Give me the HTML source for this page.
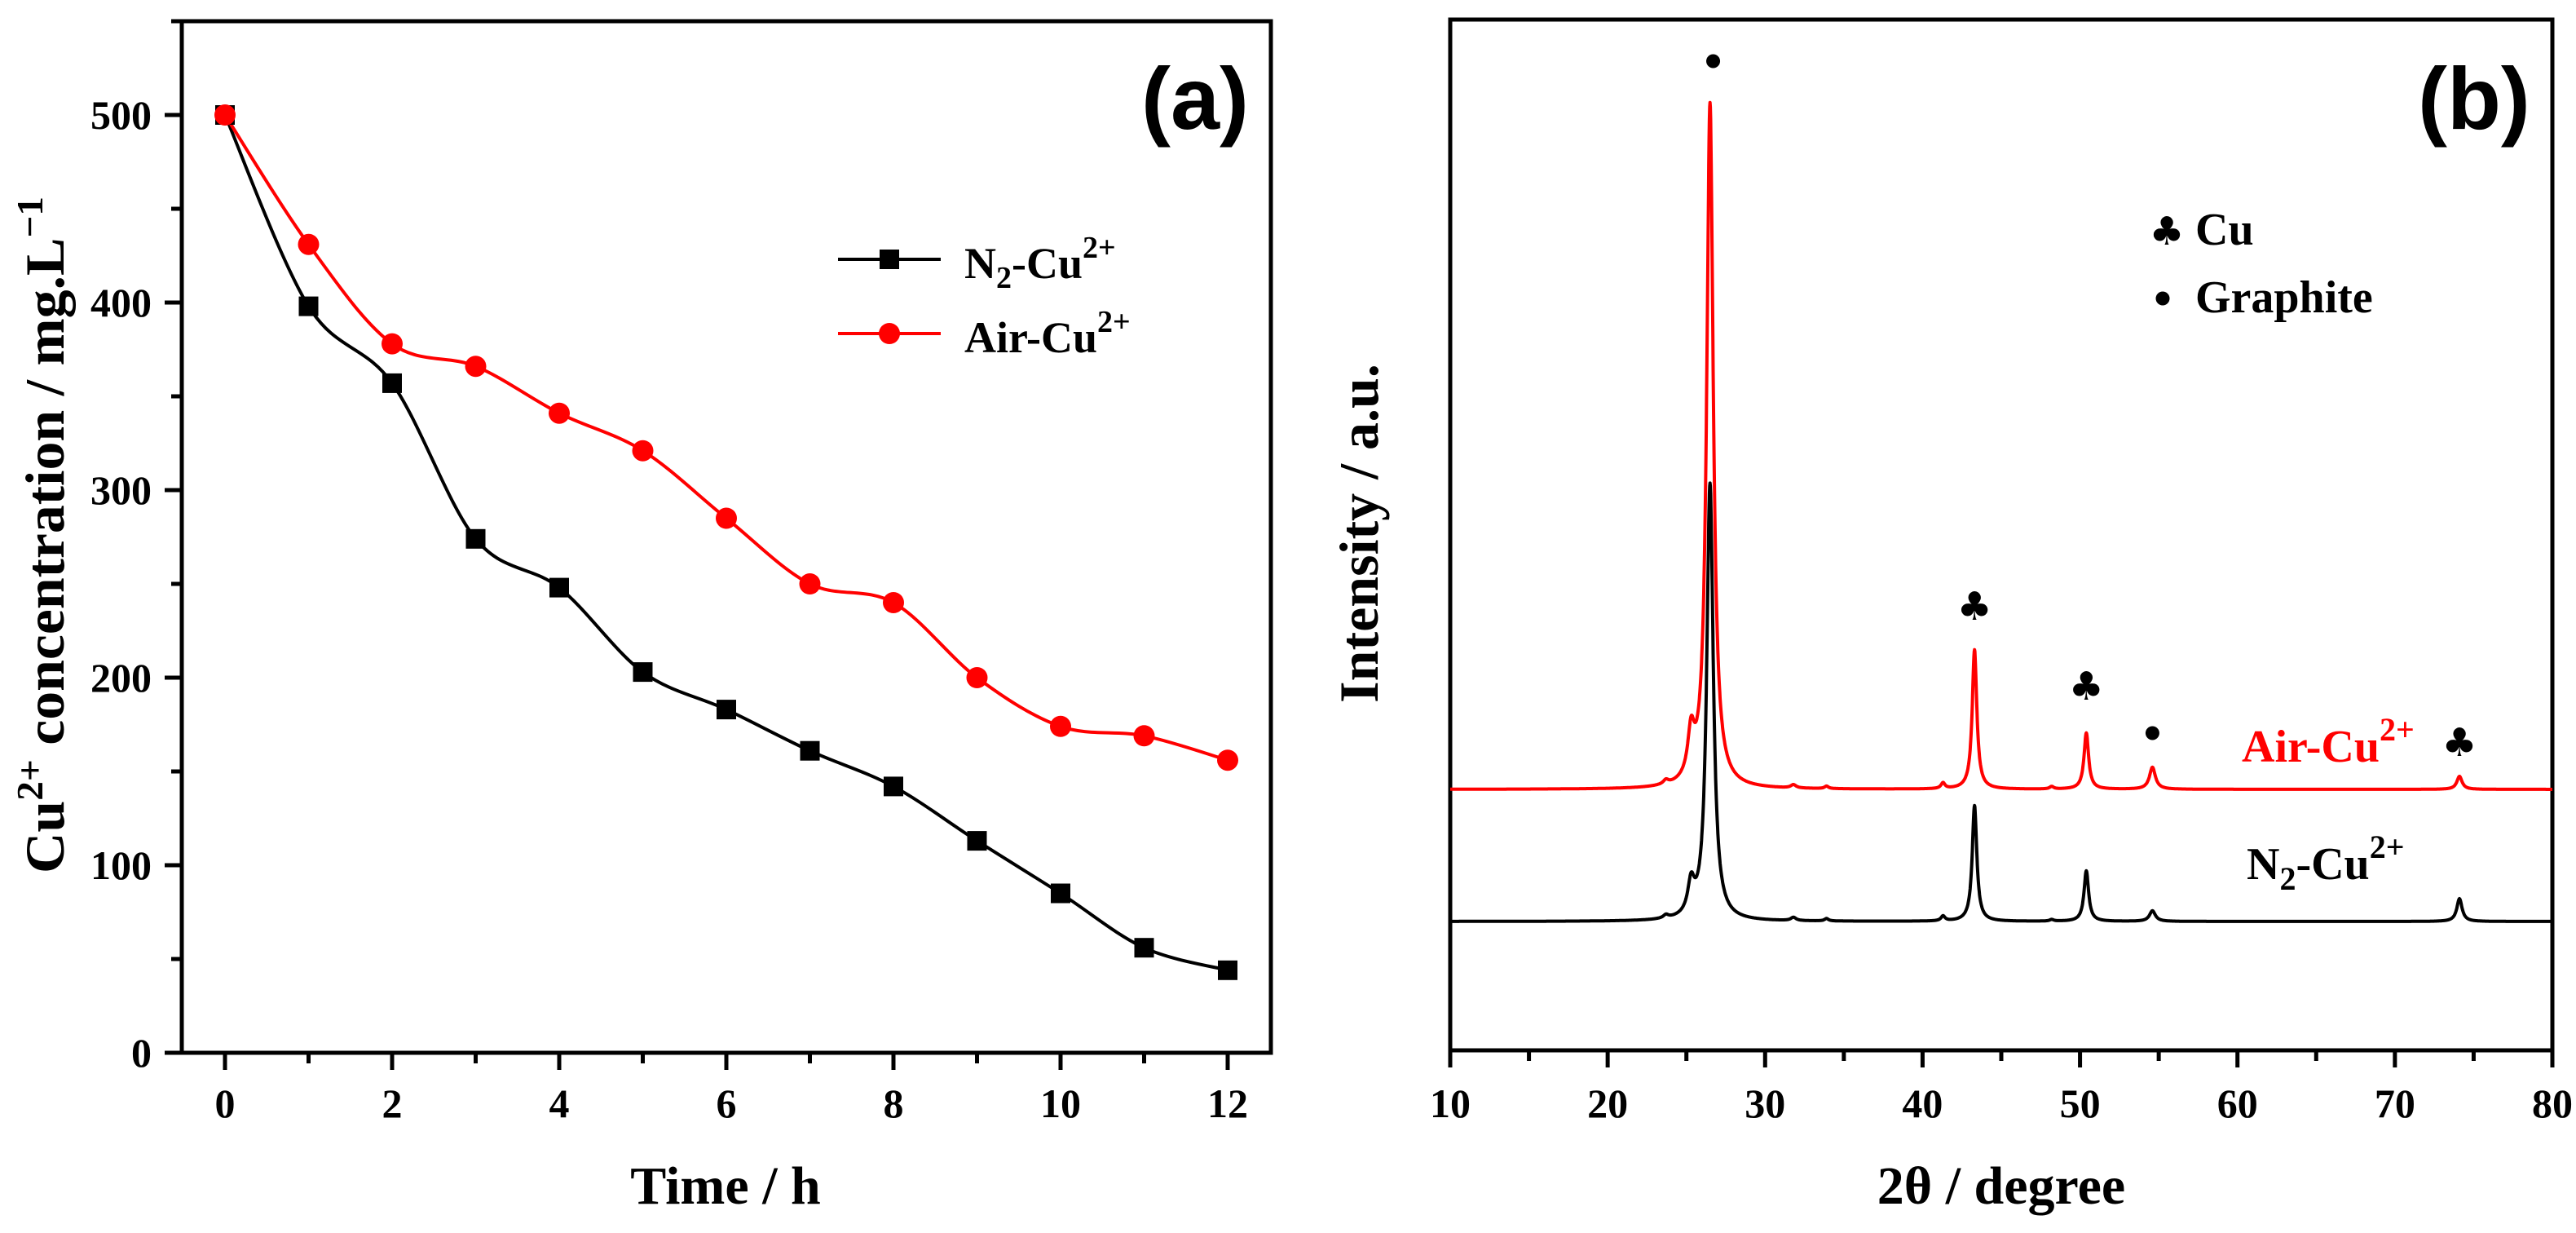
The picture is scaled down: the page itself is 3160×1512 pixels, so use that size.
<!DOCTYPE html>
<html><head><meta charset="utf-8">
<style>
html,body{margin:0;padding:0;background:#fff;}
svg{display:block;}
text{font-family:"Liberation Serif",serif;font-weight:bold;}
</style></head>
<body>
<svg id="fig" width="3160" height="1512" viewBox="0 0 3160 1512" xmlns="http://www.w3.org/2000/svg">
<g id="pa"></g>
<g id="pb"></g>
</svg>
<script>
// ---- Panel (a) data ----
const timeHours = [0,1,2,3,4,5,6,7,8,9,10,11,12];
const n2Conc = [500,398,357,274,248,203,183,161,142,113,85,56,44];
const airConc = [500,431,378,366,341,321,285,250,240,200,174,169,156];
const aXTicks = [0,2,4,6,8,10,12];
const aYTicks = [0,100,200,300,400,500];

// ---- Panel (b) data: peaks [2theta, height (a.u.), fwhm] ----
const xrdXTicks = [10,20,30,40,50,60,70,80];
const airPeakPos = [23.7,25.3,26.5,31.8,33.9,41.3,43.3,48.2,50.4,54.6,74.1];
const airPeakHt  = [5,55,840,4,3,7,171,3,69,27,16];
const n2PeakPos  = [23.7,25.3,26.5,31.8,33.9,41.3,43.3,48.2,50.4,54.6,74.1];
const n2PeakHt   = [4,38,536,4,3,6,142,2,62,13,28];
const peakWidth  = [0.4,0.5,0.5,0.4,0.3,0.3,0.35,0.3,0.35,0.45,0.4];
const airBaseline = 0, n2Baseline = 0;

const NS="http://www.w3.org/2000/svg";
function mk(parent,tag,attrs){const e=document.createElementNS(NS,tag);for(const k in attrs)e.setAttribute(k,attrs[k]);parent.appendChild(e);return e;}

// ===== Panel a =====
const pa=document.getElementById('pa');
const aL=223,aR=1559,aT=26,aB=1291;
const ax=v=>276+(v-0)*(1506-276)/12;
const ay=v=>aB-(v)*(aB-141)/500;

let f=mk(pa,'rect',{x:aL,y:aT,width:aR-aL,height:aB-aT,fill:'none',stroke:'#000','stroke-width':5});

for(let v=0;v<=12;v++){
  const major=v%2===0;
  let t=mk(pa,'line',{x1:ax(v),x2:ax(v),y1:aB,y2:aB+(major?21:13),stroke:'#000','stroke-width':5});
  
}
aXTicks.forEach(v=>{let t=mk(pa,'text',{x:ax(v),y:1370,'font-size':50,'text-anchor':'middle'});t.textContent=v;
  });
for(let v=0;v<=550;v+=50){
  const major=v%100===0;
  let t=mk(pa,'line',{x1:aL-(major?21:13),x2:aL,y1:ay(v),y2:ay(v),stroke:'#000','stroke-width':5});
  
}
aYTicks.forEach(v=>{let t=mk(pa,'text',{x:186,y:ay(v)+17,'font-size':50,'text-anchor':'end'});t.textContent=v;
  });

let xt=mk(pa,'text',{x:890,y:1476,'font-size':66,'text-anchor':'middle'});xt.textContent='Time / h';

let yt=mk(pa,'text',{x:0,y:0,'font-size':68,'text-anchor':'middle',transform:'translate(78,656) rotate(-90)',textLength:830,lengthAdjust:'spacingAndGlyphs'});
yt.innerHTML='Cu<tspan dy="-26" font-size="46">2+</tspan><tspan dy="26"> concentration / mg.L</tspan><tspan dy="-26" font-size="46">−1</tspan>';


function smoothPath(xs,ys){
  const p=xs.map((x,i)=>[x,ys[i]]);let d=`M${p[0][0]},${p[0][1]}`;
  for(let i=0;i<p.length-1;i++){
    const p0=p[i-1]||p[i],p1=p[i],p2=p[i+1],p3=p[i+2]||p2;
    const c1=[p1[0]+(p2[0]-p0[0])/6,p1[1]+(p2[1]-p0[1])/6];
    const c2=[p2[0]-(p3[0]-p1[0])/6,p2[1]-(p3[1]-p1[1])/6];
    d+=` C${c1[0]},${c1[1]} ${c2[0]},${c2[1]} ${p2[0]},${p2[1]}`;
  }return d;
}
const xsA=timeHours.map(ax);
let ln=mk(pa,'path',{d:smoothPath(xsA,n2Conc.map(ay)),fill:'none',stroke:'#000','stroke-width':4});

let la=mk(pa,'path',{d:smoothPath(xsA,airConc.map(ay)),fill:'none',stroke:'#f00','stroke-width':4});

n2Conc.forEach((v,i)=>{let r=mk(pa,'rect',{x:ax(timeHours[i])-12,y:ay(v)-12,width:24,height:24,fill:'#000'});
  });
airConc.forEach((v,i)=>{let c=mk(pa,'circle',{cx:ax(timeHours[i]),cy:ay(v),r:13,fill:'#f00'});
  });

// legend a
let lg=mk(pa,'g',{});
mk(lg,'line',{x1:1028,x2:1154,y1:318,y2:318,stroke:'#000','stroke-width':4});
mk(lg,'rect',{x:1079,y:306,width:24,height:24,fill:'#000'});
let l1=mk(lg,'text',{x:1183,y:341,'font-size':54});l1.innerHTML='N<tspan dy="12" font-size="38">2</tspan><tspan dy="-12">-Cu</tspan><tspan dy="-25" font-size="38">2+</tspan>';

mk(lg,'line',{x1:1028,x2:1154,y1:409,y2:409,stroke:'#f00','stroke-width':4});
mk(lg,'circle',{cx:1091,cy:409,r:13,fill:'#f00'});
let l2=mk(lg,'text',{x:1183,y:432,'font-size':54});l2.innerHTML='Air-Cu<tspan dy="-25" font-size="38">2+</tspan>';

let pla=mk(pa,'text',{x:1400,y:158,'font-size':108,style:'font-family:"Liberation Sans",sans-serif'});pla.textContent='(a)';


// ===== Panel b =====
const pb=document.getElementById('pb');
const bL=1779,bR=3131,bT=24,bB=1288;
const bx=v=>bL+(v-10)*(bR-bL)/70;
const redBase=968,blackBase=1130;
let fb=mk(pb,'rect',{x:bL,y:bT,width:bR-bL,height:bB-bT,fill:'none',stroke:'#000','stroke-width':5});

for(let v=10;v<=80;v+=5){const major=v%10===0;
  let t=mk(pb,'line',{x1:bx(v),x2:bx(v),y1:bB,y2:bB+(major?21:13),stroke:'#000','stroke-width':5});
  }
xrdXTicks.forEach(v=>{let t=mk(pb,'text',{x:bx(v),y:1370,'font-size':50,'text-anchor':'middle'});t.textContent=v;
  });
let xtb=mk(pb,'text',{x:2455,y:1476,'font-size':66,'text-anchor':'middle'});xtb.textContent='2θ / degree';

let ytb=mk(pb,'text',{x:0,y:0,'font-size':68,'text-anchor':'middle',transform:'translate(1690,654) rotate(-90)'});ytb.textContent='Intensity / a.u.';


function pattern(pos,ht,base){
  let d='';
  for(let x=10;x<=80.001;x+=0.02){
    let y=base;
    for(let i=0;i<pos.length;i++){const g=peakWidth[i]/2;y+=ht[i]*g*g/((x-pos[i])*(x-pos[i])+g*g);}
    d+=(d?' L':'M')+bx(x).toFixed(1)+','+y.toFixed(1);
  }return d;
}
let pn=mk(pb,'path',{d:'',fill:'none',stroke:'#000','stroke-width':4,'stroke-linejoin':'round'});
pn.setAttribute('d',pattern(n2PeakPos,n2PeakHt.map(h=>-h),blackBase-n2Baseline));

let pr=mk(pb,'path',{d:'',fill:'none',stroke:'#f00','stroke-width':4,'stroke-linejoin':'round'});
pr.setAttribute('d',pattern(airPeakPos,airPeakHt.map(h=>-h),redBase-airBaseline));


function club(x,y){let t=mk(pb,'text',{x:bx(x),y:y,'font-size':48,'text-anchor':'middle',style:'font-family:"DejaVu Sans",sans-serif'});t.textContent='♣';
  }
function dot(x,y){let c=mk(pb,'circle',{cx:bx(x),cy:y,r:8.5,fill:'#000'});
  }
dot(26.7,75);
club(43.3,760);
club(50.4,858);
dot(54.6,899);
club(74.1,927);

let lb=mk(pb,'g',{});
let c1=mk(lb,'text',{x:2658,y:300,'font-size':48,'text-anchor':'middle',style:'font-family:"DejaVu Sans",sans-serif'});c1.textContent='♣';
let c2=mk(lb,'text',{x:2693,y:300,'font-size':56});c2.textContent='Cu';

mk(lb,'circle',{cx:2653,cy:366,r:8.5,fill:'#000'});
let c3=mk(lb,'text',{x:2693,y:383,'font-size':56});c3.textContent='Graphite';


let ta=mk(pb,'text',{x:2750,y:934,'font-size':56,fill:'#f00'});ta.innerHTML='Air-Cu<tspan dy="-26" font-size="40">2+</tspan>';

let tn=mk(pb,'text',{x:2756,y:1078,'font-size':56});tn.innerHTML='N<tspan dy="13" font-size="40">2</tspan><tspan dy="-13">-Cu</tspan><tspan dy="-26" font-size="40">2+</tspan>';

let plb=mk(pb,'text',{x:2966,y:158,'font-size':108,style:'font-family:"Liberation Sans",sans-serif'});plb.textContent='(b)';

</script>
</body></html>
